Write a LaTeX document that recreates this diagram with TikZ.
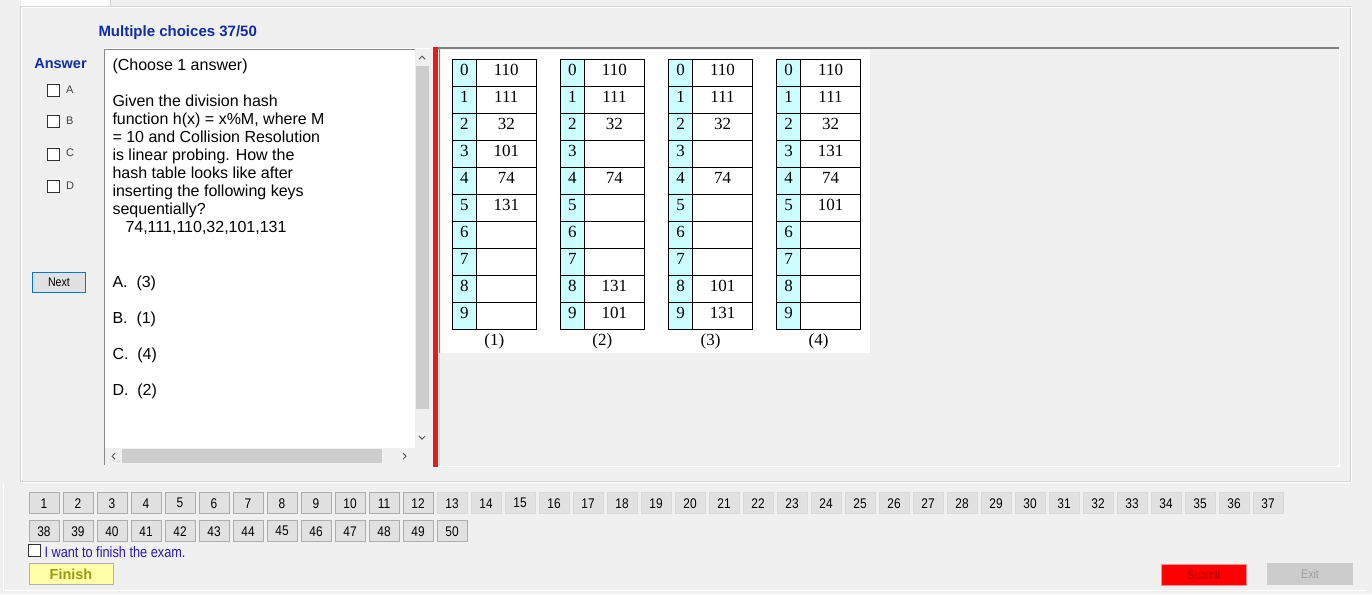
\documentclass[tikz,border=0pt]{standalone}
\usepackage{fontspec}
\setmainfont{Liberation Sans}
\newfontfamily\tabfont{Liberation Serif}
\newfontfamily\narrowfont[FakeStretch=0.85]{Liberation Sans}
\usepackage{tikz}

\definecolor{uibg}{HTML}{F0F0F0}
\definecolor{etchgray}{HTML}{D5D5D5}
\definecolor{panelgray}{HTML}{7F7F7F}
\definecolor{boxedge}{HTML}{8A8A8A}
\definecolor{thumbgray}{HTML}{CDCDCD}
\definecolor{arrowgray}{HTML}{606060}
\definecolor{uiblue}{HTML}{0F2DA6}
\definecolor{finblue}{HTML}{2A1AB0}
\definecolor{uired}{HTML}{E31B1B}
\definecolor{idxcyan}{HTML}{CCFFFF}
\definecolor{btnfill}{HTML}{E1E1E1}
\definecolor{btnedge}{HTML}{ADADAD}
\definecolor{focusblue}{HTML}{0078D7}
\definecolor{finfill}{HTML}{FFFFA8}
\definecolor{fintext}{HTML}{9A9A10}

\begin{document}
\begin{tikzpicture}[x=1pt, y=-1pt,
  every node/.style={inner sep=0pt, outer sep=0pt},
  headtext/.style={font=\fontsize{15}{17}\selectfont\bfseries, text=uiblue, anchor=base west},
  qtext/.style={font=\fontsize{16}{18}\selectfont, anchor=north west, align=left},
  opttext/.style={font=\fontsize{16}{18}\selectfont, anchor=base west},
  chkbox/.style={draw=black!80, fill=white, line width=1pt, minimum size=12pt},
  chklbl/.style={font=\fontsize{11}{13}\selectfont, text=black!75, anchor=west},
  numbtn/.style={draw=btnedge, fill=btnfill, line width=1pt, minimum width=30pt, minimum height=21pt, font=\narrowfont\fontsize{14}{16}\selectfont},
  newbtn/.style={numbtn, draw=btnedge!45},
  idxcell/.style={draw=black, fill=idxcyan, line width=1pt, minimum width=24pt, minimum height=27pt, anchor=north west, font=\tabfont\fontsize{17}{19}\selectfont, text height=11.5pt, text depth=6pt},
  valcell/.style={idxcell, fill=white, minimum width=60pt},
  tablbl/.style={font=\tabfont\fontsize{17}{19}\selectfont}]

% window and frames
\fill[uibg] (0,0) rectangle (1372,594);
\fill[white] (21,0) rectangle (110,6);
\draw[etchgray] (110.5,0) -- (110.5,6.5);
\draw[etchgray] (20.5,6.5) rectangle (1350.5,480.5);
\draw[white] (21.5,7.5) rectangle (1351.5,481.5);
\draw[white] (3.5,483) -- (3.5,589.5) -- (1366,589.5);

% question box
\fill[white] (104,48) rectangle (430,465);
\draw[boxedge] (104.5,465) -- (104.5,48.5) -- (430,48.5);
\fill[uibg] (415,49) rectangle (430,465);
\fill[uibg] (105,448) rectangle (415,465);
\fill[thumbgray] (416,66) rectangle (429,409);
\fill[thumbgray] (122,449) rectangle (382,463);
\draw[arrowgray, line width=1pt] (419,59) -- (422,56) -- (425,59);
\draw[arrowgray, line width=1pt] (419,436) -- (422,439) -- (425,436);
\draw[arrowgray, line width=1pt] (115,453) -- (112,456) -- (115,459);
\draw[arrowgray, line width=1pt] (403,453) -- (406,456) -- (403,459);

% picture panel
\fill[uired] (433,47) rectangle (438,467);
\draw[panelgray, line width=2pt] (438,48) -- (1339,48);
\draw[white] (1339.5,48) -- (1339.5,465.5) -- (438,465.5);
\draw[panelgray] (439.5,48) -- (439.5,353);
\draw[etchgray] (439.5,353) -- (439.5,465);
\fill[white] (441,50) rectangle (870,353);

% heading and answer boxes
\node[headtext] (title) at (98.5,36.7) {Multiple choices 37/50};
\node[headtext, font=\fontsize{14.5}{17}\selectfont\bfseries] (answer) at (34.3,68.3) {Answer};
\node[chkbox] (boxA) at (53.5,90.5) {};
\node[chklbl] (lblA) at (66,89.5) {A};
\node[chkbox] (boxB) at (53.5,121.5) {};
\node[chklbl] (lblB) at (66,120.5) {B};
\node[chkbox] (boxC) at (53.5,154) {};
\node[chklbl] (lblC) at (66,153) {C};
\node[chkbox] (boxD) at (53.5,186.5) {};
\node[chklbl] (lblD) at (66,185.5) {D};
\node[draw=focusblue, fill=btnfill, line width=1.5pt, minimum width=53pt, minimum height=20pt, font=\narrowfont\fontsize{12.5}{14}\selectfont] (next) at (59,282.5) {Next};

% question
\node[qtext] (question) at (112.5,58.3) {(Choose 1 answer)\\[18pt]Given the division hash\\function h(x) = x\%M, where M\\= 10 and Collision Resolution\\is linear probing. How the\\hash table looks like after\\inserting the following keys\\sequentially?\\\hspace*{13pt}74,111,110,32,101,131};
\node[opttext] (optA) at (112.5,287.4) {A.\ \ (3)};
\node[opttext] (optB) at (112.5,323.4) {B.\ \ (1)};
\node[opttext] (optC) at (112.5,359.7) {C.\ \ (4)};
\node[opttext] (optD) at (112.5,395.7) {D.\ \ (2)};

% table (1)
\foreach \v [count=\r from 0] in {110,111,32,101,74,131,{},{},{},{}} {
  \node[idxcell] (ai\r) at (452.3,59.3+27*\r) {\r};
  \node[valcell] (av\r) at (476.3,59.3+27*\r) {\v};
}
\node[tablbl] (alabel) at (494.3,341) {(1)};
% table (2)
\foreach \v [count=\r from 0] in {110,111,32,{},74,{},{},{},131,101} {
  \node[idxcell] (bi\r) at (560.4,59.3+27*\r) {\r};
  \node[valcell] (bv\r) at (584.4,59.3+27*\r) {\v};
}
\node[tablbl] (blabel) at (602.4,341) {(2)};
% table (3)
\foreach \v [count=\r from 0] in {110,111,32,{},74,{},{},{},101,131} {
  \node[idxcell] (ci\r) at (668.5,59.3+27*\r) {\r};
  \node[valcell] (cv\r) at (692.5,59.3+27*\r) {\v};
}
\node[tablbl] (clabel) at (710.5,341) {(3)};
% table (4)
\foreach \v [count=\r from 0] in {110,111,32,131,74,101,{},{},{},{}} {
  \node[idxcell] (di\r) at (776.6,59.3+27*\r) {\r};
  \node[valcell] (dv\r) at (800.6,59.3+27*\r) {\v};
}
\node[tablbl] (dlabel) at (818.6,341) {(4)};

% question buttons
\foreach \n in {1,...,12}
  \node[numbtn] (q\n) at ({44+34*(\n-1)},503) {\n};
\foreach \n in {13,...,37}
  \node[newbtn] (q\n) at ({44+34*(\n-1)},503) {\n};
\foreach \n in {38,...,50}
  \node[numbtn] (q\n) at ({44+34*(\n-38)},531) {\n};

% finish / submit / exit
\node[chkbox] (finchk) at (34,550.5) {};
\node[anchor=west, text=finblue, font=\narrowfont\fontsize{15}{17}\selectfont] (finlbl) at (44.5,551.5) {I want to finish the exam.};
\node[draw=black!30, fill=finfill, line width=1pt, minimum width=84pt, minimum height=21pt, text=fintext, font=\fontsize{14.5}{16}\selectfont\bfseries] (finish) at (71,574) {Finish};
\node[draw=red!45, fill=red, line width=1pt, minimum width=85pt, minimum height=21pt, text=red!65!black, font=\narrowfont\fontsize{12.5}{14}\selectfont] (submit) at (1204,574.5) {Submit};
\node[fill=black!20, minimum width=86pt, minimum height=22pt, text=black!38, font=\narrowfont\fontsize{12.5}{14}\selectfont] (exit) at (1310,574) {Exit};
\end{tikzpicture}
\end{document}
